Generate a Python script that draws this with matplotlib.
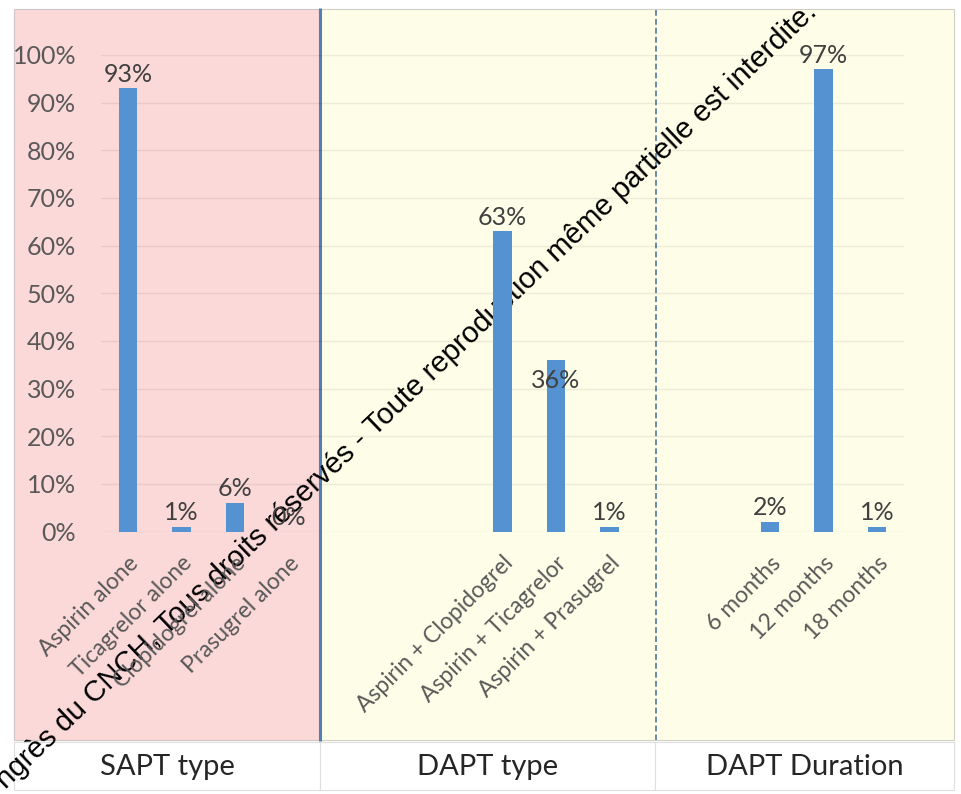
import matplotlib.pyplot as plt
from matplotlib.patches import Rectangle
import numpy as np

# antiplatelet therapy after discharge (% of patients)
sapt_types = ['Aspirin alone', 'Ticagrelor alone', 'Clopidogrel alone', 'Prasugrel alone']
sapt_pct = [93, 1, 6, 0]
dapt_types = ['Aspirin + Clopidogrel', 'Aspirin + Ticagrelor', 'Aspirin + Prasugrel']
dapt_pct = [63, 36, 1]
dapt_durations = ['6 months', '12 months', '18 months']
duration_pct = [2, 97, 1]
group_names = ['SAPT type', 'DAPT type', 'DAPT Duration']
yticks = [0, 10, 20, 30, 40, 50, 60, 70, 80, 90, 100]

W, H = 961, 794
BAR = '#5592D2'
FONT = ['Lato', 'DejaVu Sans']

fig = plt.figure(figsize=(W / 100, H / 100), dpi=100)
fig.patch.set_facecolor('white')

# pixel-space layer for panels, separators and group captions
bg = fig.add_axes([0, 0, 1, 1], zorder=0)
bg.set_xlim(0, W)
bg.set_ylim(H, 0)
bg.axis('off')

bg.add_patch(Rectangle((14, 9), 305, 731, facecolor='#FCD9D9', edgecolor='#d0c4c4', lw=0.8))
bg.add_patch(Rectangle((320, 9), 634, 731, facecolor='#FEFEE8', edgecolor='#cfcfc6', lw=0.8))
bg.plot([319.5, 319.5], [8, 741], color='#4F7FB5', lw=2.2, solid_capstyle='butt')
bg.plot([655.5, 655.5], [10, 740], color='#6C8AA6', lw=1.4, dashes=(3, 1.6))

cells = [(14, 320), (320, 655), (655, 954)]
for (x0, x1), name in zip(cells, group_names):
    bg.add_patch(Rectangle((x0, 742), x1 - x0, 48, facecolor='white', edgecolor='#dedede', lw=0.8))
    bg.text((x0 + x1) / 2, 767, name, ha='center', va='center', fontsize=21,
            color='#262626', family=FONT)

# category slots: three empty slots after SAPT, two after DAPT type
labels = sapt_types + [''] * 3 + dapt_types + [''] * 2 + dapt_durations
values = sapt_pct + [np.nan] * 3 + dapt_pct + [np.nan] * 2 + duration_pct
x = np.arange(len(labels))

ax = fig.add_axes([101.25 / W, 1 - 531.5 / H, 802.5 / W, 476.5 / H], zorder=1)
ax.set_facecolor('none')
ax.set_xlim(-0.5, len(labels) - 0.5)
ax.set_ylim(0, 100)

heights = np.nan_to_num(values)
ax.bar(x, heights, width=0.34, color=BAR, zorder=2)

inside = {'Aspirin + Ticagrelor'}
for xi, lab, v in zip(x, labels, values):
    if np.isnan(v):
        continue
    if lab in inside:
        ax.annotate(f'{v:.0f}%', (xi, v), xytext=(0, -15), textcoords='offset points',
                    ha='center', va='center', fontsize=18, color='#404040', family=FONT)
    else:
        ax.annotate(f'{v:.0f}%', (xi, v), xytext=(0, 2), textcoords='offset points',
                    ha='center', va='bottom', fontsize=18, color='#404040', family=FONT)

ax.set_yticks(yticks)
ax.set_yticklabels([f'{t}%' for t in yticks], family=FONT, fontsize=18, color='#595959')
ax.set_xticks([xi for xi, l in zip(x, labels) if l])
ax.set_xticklabels([l for l in labels if l], rotation=45, ha='right', va='top',
                   rotation_mode='anchor', family=FONT, fontsize=16.5, color='#595959')
ax.tick_params(axis='x', length=0, pad=15)
ax.tick_params(axis='y', length=0, pad=18)
ax.yaxis.grid(True, color='#000000', alpha=0.07, lw=1)
ax.set_axisbelow(True)
for s in ax.spines.values():
    s.set_visible(False)

# copyright notice running across the figure
bg.text(6, 790, 'ngrès du CNCH, Tous droits réservés - Toute reproduction même partielle est interdite.',
        rotation=43.7, rotation_mode='anchor', ha='left', va='baseline',
        fontsize=21.2, color='black', family=['Liberation Sans', 'DejaVu Sans'], zorder=5)

fig.savefig('out.png', dpi=100)
